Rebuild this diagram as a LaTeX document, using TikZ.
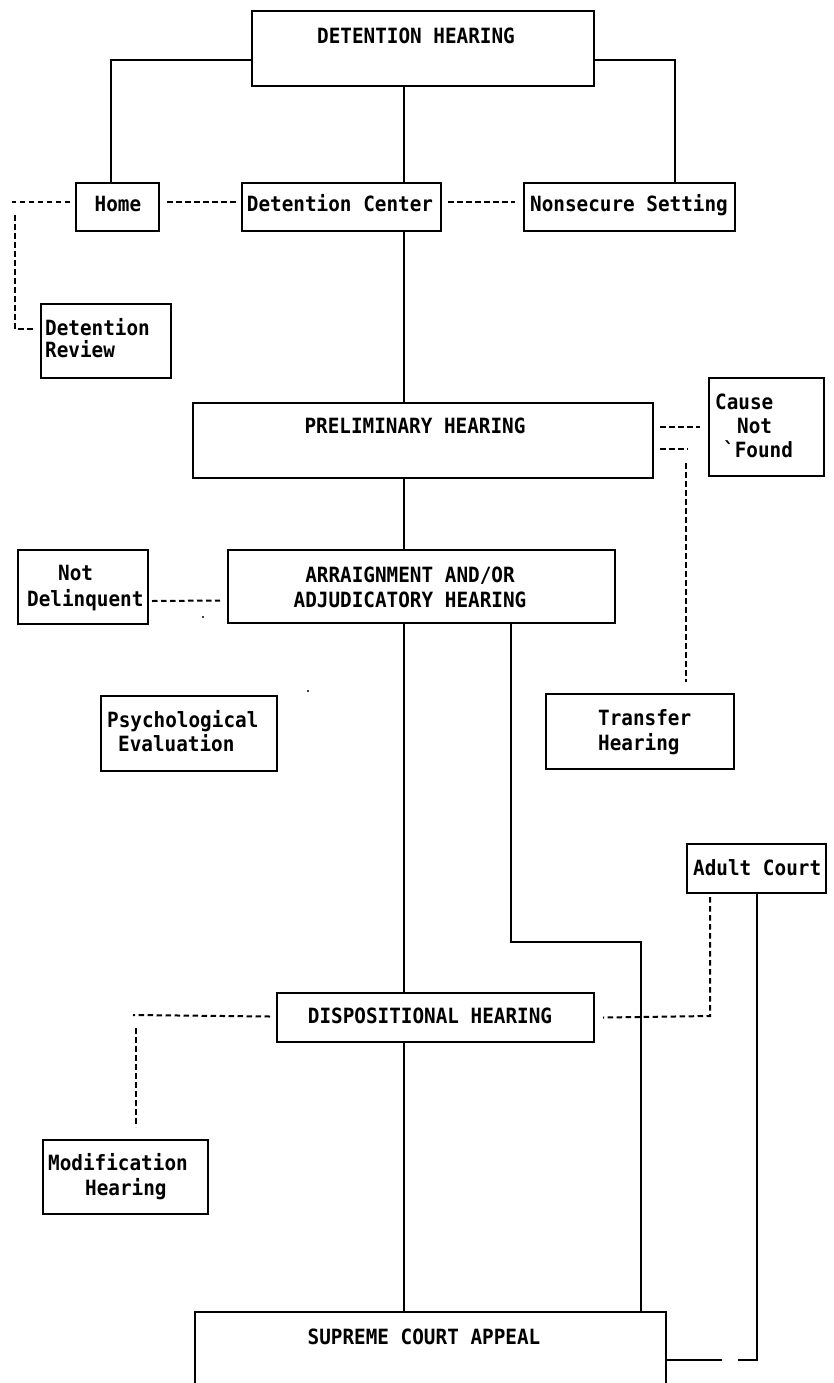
\documentclass[tikz,border=0pt]{standalone}
\usepackage{fontspec}
\newfontfamily\dmono{DejaVu Sans Mono}[FakeStretch=0.92]
\usetikzlibrary{calc}
\tikzset{
 box/.style={draw, line width=2pt, inner sep=0pt, fill=white},
 txt/.style={font=\dmono\bfseries\fontsize{21}{25}\selectfont, inner sep=0pt, anchor=base, yshift=-7.6pt},
 txtl/.style={txt, anchor=base west},
 con/.style={line width=2pt},
 dsh/.style={line width=2pt, dash pattern=on 5.5pt off 3.5pt},
}
\newcommand\mybox[5]{\node[box, anchor=north west, minimum width={(#4-#2)*1pt}, minimum height={(#5-#3)*1pt}] (#1) at (#2,#3) {};}
\begin{document}
\begin{tikzpicture}[x=1pt,y=-1pt]
\fill[white] (0,0) rectangle (834,1383);
\useasboundingbox (0,0) rectangle (834,1383);
\clip (0,0) rectangle (834,1383);
% boxes
\mybox{dh}{251}{10}{593}{85}
\mybox{home}{75}{182}{158}{230}
\mybox{dc}{241}{182}{440}{230}
\mybox{ns}{523}{182}{734}{230}
\mybox{dr}{40}{303}{170}{377}
\mybox{pre}{192}{402}{652}{477}
\mybox{cause}{708}{377}{823}{475}
\mybox{ar}{227}{549}{614}{622}
\mybox{nd}{17}{549}{147}{623}
\mybox{ps}{100}{695}{276}{770}
\mybox{tr}{545}{693}{733}{768}
\mybox{ad}{686}{843}{825}{892}
\mybox{di}{276}{992}{593}{1041}
\mybox{mo}{42}{1139}{207}{1213}
\mybox{su}{194}{1311}{665}{1400}
% texts
\node[txt] (tdh) at (416,36) {DETENTION HEARING};
\node[txt] (thome) at (118,204) {Home};
\node[txt] (tdc) at (340,204) {Detention Center};
\node[txt] (tns) at (629,204) {Nonsecure Setting};
\node[txtl] (tdr1) at (45,328) {Detention};
\node[txtl] (tdr2) at (45,350) {Review};
\node[txt] (tpre) at (415,426) {PRELIMINARY HEARING};
\node[txtl] (tc1) at (715,402) {Cause};
\node[txtl] (tc2) at (737,426) {Not};
\node[txtl] (tc3) at (723,450) {`Found};
\node[txt] (ta1) at (410,575) {ARRAIGNMENT AND/OR};
\node[txt] (ta2) at (410,600) {ADJUDICATORY HEARING};
\node[txtl] (tn1) at (58,573) {Not};
\node[txtl] (tn2) at (27,599) {Delinquent};
\node[txtl] (tp1) at (107,720) {Psychological};
\node[txtl] (tp2) at (118,744) {Evaluation};
\node[txtl] (tt1) at (598,718) {Transfer};
\node[txtl] (tt2) at (598,743) {Hearing};
\node[txtl] (tad) at (693,868) {Adult Court};
\node[txt] (tdi) at (430,1016) {DISPOSITIONAL HEARING};
\node[txtl] (tm1) at (48,1163) {Modification};
\node[txtl] (tm2) at (85,1188) {Hearing};
\node[txt] (tsu) at (424,1337) {SUPREME COURT APPEAL};
% coordinates
\coordinate (spine) at (404,0);
\coordinate (homecol) at (111,0);
\coordinate (nscol) at (675,0);
\coordinate (lt) at (12,202);
\coordinate (lv) at (15,215);
\coordinate (tcol) at (686,449);
\coordinate (brx) at (511,942);
\coordinate (b2) at (641,942);
\coordinate (ax) at (710,1016);
\coordinate (bx) at (757,1360);
\coordinate (g1) at (738,1360);
\coordinate (g2) at (722,1360);
\coordinate (mx) at (136,1015);
% connectors
\draw[con] (spine |- dh.south) -- (spine |- dc.north);
\draw[con] ($(dh.north west)+(0,50)$) -| (homecol |- home.north);
\draw[con] ($(dh.north east)+(0,50)$) -| (nscol |- ns.north);
\draw[dsh] ($(home.west |- lt)+(-5,0)$) -- (lt);
\draw[dsh] (lv) |- ($(dr.west)+(-6,-12)$);
\draw[dsh] ($(home.east |- lt)+(7,0)$) -- ($(dc.west |- lt)+(-4,0)$);
\draw[dsh] ($(dc.east |- lt)+(6,0)$) -- ($(ns.west |- lt)+(-8,0)$);
\draw[con] (spine |- dc.south) -- (spine |- pre.north);
\draw[dsh] ($(pre.east |- cause.west)+(6,0)$) -- ($(cause.west)+(-8,0)$);
\draw[dsh] ($(pre.east |- tcol)+(6,0)$) -- ($(tcol)+(2,0)$);
\draw[dsh] ($(tcol)+(0,14)$) -- ($(tcol |- tr.north)+(0,-11)$);
\draw[con] (spine |- pre.south) -- (spine |- ar.north);
\draw[dsh] ($(nd.east)+(3,14)$) -- ($(ar.west)+(-7,14)$);
\draw[con] (spine |- ar.south) -- (spine |- di.north);
\draw[con] (brx |- ar.south) -- (brx) -- (b2) -- (b2 |- su.north);
\draw[dsh] ($(ad.south -| ax)+(0,3)$) -- (ax) -- ($(di.east)+(8,0)$);
\draw[con] (ad.south -| bx) -- (bx) -- (g1);
\draw[con] (g2) -- (su.east |- g2);
\draw[dsh] ($(di.west)+(-6,-1)$) -- ($(mx)+(-3,0)$);
\draw[dsh] ($(mx)+(0,13)$) -- ($(mx |- mo.north)+(0,-12)$);
\draw[con] (spine |- di.south) -- (spine |- su.north);
% specks
\fill (203,617) circle (1.2pt);
\fill (308,691) circle (1.2pt);
\end{tikzpicture}
\end{document}
